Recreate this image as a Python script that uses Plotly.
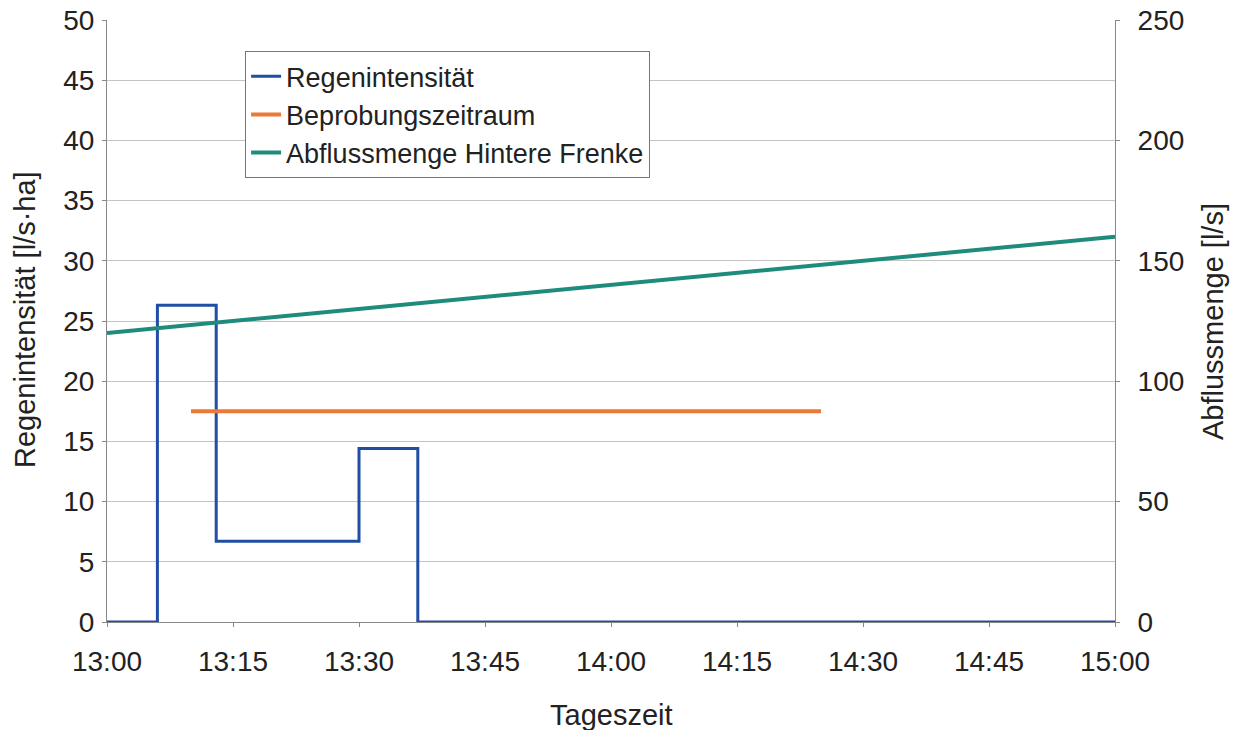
import plotly.graph_objects as go

DAY = "2000-01-01 "
rain_times = ["13:00", "13:06", "13:13", "13:30", "13:37", "15:00"]
rain_values = [0, 26.3, 6.7, 14.4, 0, 0]
sample_times = ["13:10", "14:25"]
sample_values = [87.5, 87.5]
flow_times = ["13:00", "15:00"]
flow_values = [120, 160]
x_ticks = ["13:00", "13:15", "13:30", "13:45", "14:00", "14:15", "14:30", "14:45", "15:00"]

FONT = "Liberation Sans, Arial, sans-serif"

fig = go.Figure()
fig.add_trace(go.Scatter(x=[DAY + t for t in rain_times], y=rain_values, mode="lines",
                         line=dict(color="#1f4ea3", width=3, shape="hv"), name="Regenintensität"))
fig.add_trace(go.Scatter(x=[DAY + t for t in sample_times], y=sample_values, mode="lines",
                         line=dict(color="#ea7a35", width=4), name="Beprobungszeitraum", yaxis="y2"))
fig.add_trace(go.Scatter(x=[DAY + t for t in flow_times], y=flow_values, mode="lines",
                         line=dict(color="#1e8b7c", width=4), name="Abflussmenge Hintere Frenke", yaxis="y2"))

fig.update_layout(
    width=1237, height=730,
    margin=dict(l=107, r=122, t=20, b=108),
    paper_bgcolor="white", plot_bgcolor="white",
    font=dict(family=FONT, size=28, color="#222"),
    showlegend=True,
    legend=dict(x=0.137, y=0.948, xanchor="left", yanchor="top",
                bgcolor="white", bordercolor="#777", borderwidth=1,
                font=dict(size=27), tracegroupgap=0),
    xaxis=dict(type="date", range=[DAY + "13:00", DAY + "15:00"],
               tickvals=[DAY + t for t in x_ticks], ticktext=x_ticks,
               showgrid=False, showline=True, linecolor="#888", linewidth=1,
               ticks="outside", ticklen=4, tickcolor="#888", automargin=False,
               ticklabelstandoff=10),
    yaxis=dict(range=[0, 50], dtick=5, showgrid=True, gridcolor="#c4c4c4",
               showline=True, linecolor="#888", linewidth=1, zeroline=False,
               ticks="outside", ticklen=4, tickcolor="#888", automargin=False,
               ticklabelstandoff=2),
    yaxis2=dict(range=[0, 250], dtick=50, overlaying="y", side="right", showgrid=False,
                showline=True, linecolor="#888", linewidth=1, zeroline=False,
                ticks="outside", ticklen=4, tickcolor="#888", automargin=False,
                ticklabelstandoff=12),
    annotations=[
        dict(text="Tageszeit", xref="paper", yref="paper", x=0.5, y=(622 - 715) / 602,
             xanchor="center", yanchor="middle", showarrow=False, font=dict(size=29)),
        dict(text="Regenintensität [l/s·ha]", xref="paper", yref="paper",
             x=(25 - 107) / 1008, y=(622 - 320) / 602, textangle=-90,
             xanchor="center", yanchor="middle", showarrow=False, font=dict(size=29)),
        dict(text="Abflussmenge [l/s]", xref="paper", yref="paper",
             x=(1213 - 107) / 1008, y=(622 - 322) / 602, textangle=-90,
             xanchor="center", yanchor="middle", showarrow=False, font=dict(size=29)),
    ],
)

fig.write_html("out.html")
